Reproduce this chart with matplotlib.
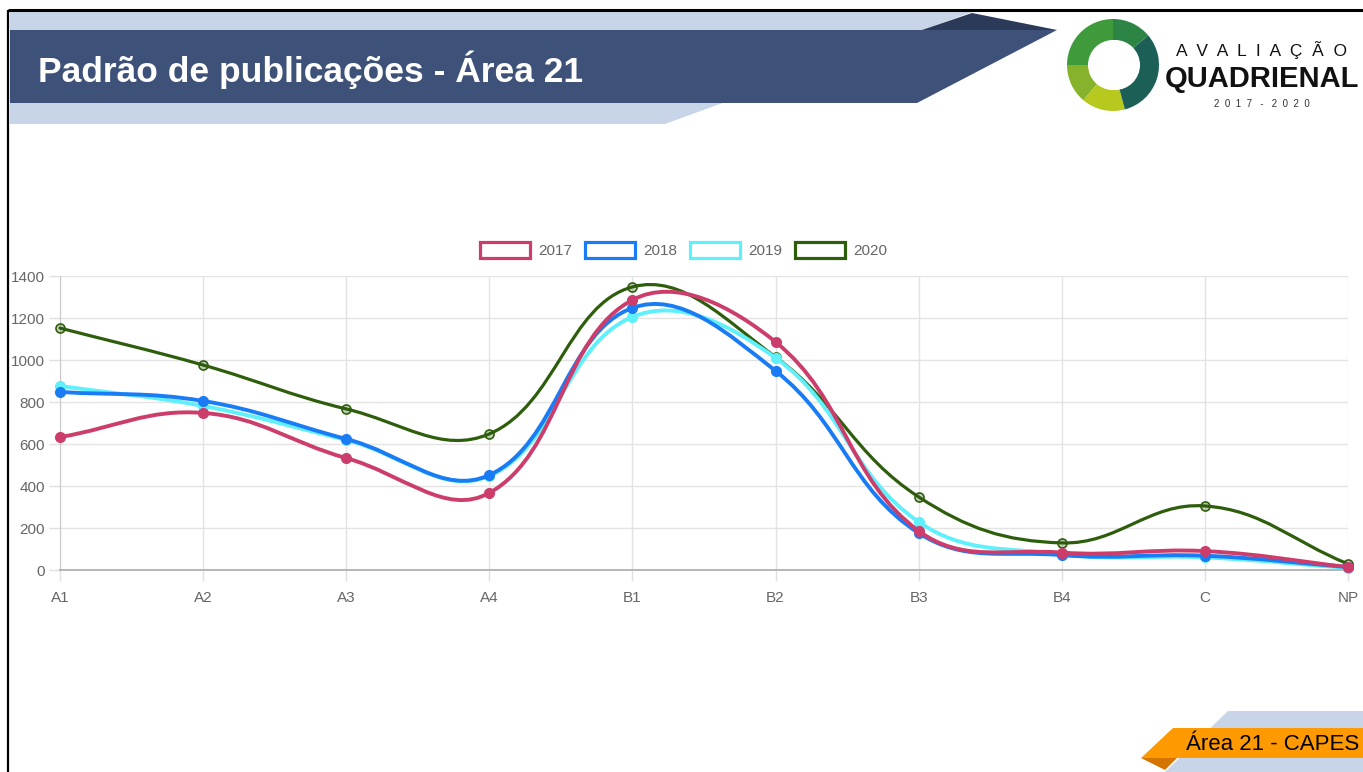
import numpy as np
import matplotlib
matplotlib.use("Agg")
import matplotlib.pyplot as plt
from matplotlib.path import Path
from matplotlib.patches import PathPatch, Polygon, Patch, Wedge, Circle

# ---------------- data ----------------
categories = ["A1", "A2", "A3", "A4", "B1", "B2", "B3", "B4", "C", "NP"]
years = ["2017", "2018", "2019", "2020"]
v2017 = [633, 748, 533, 367, 1286, 1086, 186, 83, 90, 14]
v2018 = [848, 805, 624, 452, 1248, 948, 176, 71, 68, 14]
v2019 = [876, 781, 619, 448, 1205, 1010, 229, 75, 60, 10]
v2020 = [1152, 976, 767, 648, 1348, 1014, 348, 129, 305, 29]
yticks = [0, 200, 400, 600, 800, 1000, 1200, 1400]

title = "Padrão de publicações - Área 21"
footer = "Área 21 - CAPES"

series = [v2017, v2018, v2019, v2020]
colors = ["#cc3d6b", "#1a7cf5", "#5ef0fb", "#2e5d0c"]

W, H = 1363, 772
fig = plt.figure(figsize=(W / 100, H / 100), dpi=100)
fig.patch.set_facecolor("white")
sans = ["Liberation Sans", "DejaVu Sans"]

# ---------------- decoration (pixel coordinates, y down) ----------------
deco = fig.add_axes([0, 0, 1, 1], zorder=0)
deco.set_xlim(0, W)
deco.set_ylim(H, 0)
deco.axis("off")

deco.add_patch(Polygon([(10, 12), (972, 12), (665, 124), (10, 124)], closed=True,
                       facecolor="#c8d4e8", edgecolor="none"))
deco.add_patch(Polygon([(10, 30), (1057, 30), (917, 103), (10, 103)], closed=True,
                       facecolor="#3e5178", edgecolor="none"))
deco.add_patch(Polygon([(922, 30), (972, 13), (1057, 30)], closed=True,
                       facecolor="#2b3a58", edgecolor="none"))
deco.text(38, 70, title, color="white", fontsize=25.5, fontweight="bold",
          family=sans, va="center", ha="left")

# frame
deco.plot([8, W], [10, 10], color="black", lw=2.2, solid_capstyle="butt")
deco.plot([8, 8], [10, H], color="black", lw=1.6, solid_capstyle="butt")

# logo swirl
cx, cy = 1113, 65
segs = [(90, 180, "#3f9a3c"), (180, 230, "#86b22c"), (230, 285, "#b7c81f"),
        (285, 400, "#1b5f57"), (40, 90, "#2d8545")]
for a0, a1, c in segs:
    deco.add_patch(Wedge((cx, cy), 46, -a1, -a0, width=21, facecolor=c, edgecolor="none"))
deco.add_patch(Circle((cx + 2, cy), 25, facecolor="white", edgecolor="none"))
deco.text(1262, 50, "A  V  A  L  I  A  Ç  Ã  O", fontsize=12.5, ha="center", va="center",
          family=sans, color="#111111")
deco.text(1262, 79, "QUADRIENAL", fontsize=21, ha="center", va="center", fontweight="bold",
          family=sans, color="#111111")
deco.text(1262, 104, "2  0  1  7   -   2  0  2  0", fontsize=7, ha="center", va="center",
          family=sans, color="#333333")

# footer banner
deco.add_patch(Polygon([(1228, 711), (W, 711), (W, H), (1165, H)], closed=True,
                       facecolor="#c8d4e8", edgecolor="none"))
deco.add_patch(Polygon([(1141, 758), (1177, 758), (1165, 770)], closed=True,
                       facecolor="#d47500", edgecolor="none"))
deco.add_patch(Polygon([(1173, 728), (W, 728), (W, 758), (1141, 758)], closed=True,
                       facecolor="#ff9900", edgecolor="none"))
deco.text(1273, 744, footer, fontsize=16, ha="center", va="center",
          family=sans, color="black")

# ---------------- chart ----------------
x0, x1, ytop, ybot = 60, 1348, 276, 570
ax = fig.add_axes([x0 / W, 1 - ybot / H, (x1 - x0) / W, (ybot - ytop) / H], zorder=2)
ax.set_facecolor("none")
n = len(categories)
xs = np.arange(n)
ax.set_xlim(0, n - 1)
ax.set_ylim(0, 1400)

# pixel scales for Chart.js style spline
sx = (x1 - x0) / (n - 1)
sy = (ybot - ytop) / 1400.0
tension = 0.4


def spline_path(vals):
    px = xs * sx
    py = np.array(vals, dtype=float) * sy
    m = len(px)
    cp_prev = [None] * m
    cp_next = [None] * m
    for i in range(m):
        p = np.array([px[i], py[i]])
        pr = np.array([px[i - 1], py[i - 1]]) if i > 0 else p
        nx = np.array([px[i + 1], py[i + 1]]) if i < m - 1 else p
        d01 = np.hypot(*(p - pr))
        d12 = np.hypot(*(nx - p))
        tot = d01 + d12
        s01 = d01 / tot if tot else 0
        s12 = d12 / tot if tot else 0
        cp_prev[i] = p - tension * s01 * (nx - pr)
        cp_next[i] = p + tension * s12 * (nx - pr)
    verts = [(px[0] / sx, py[0] / sy)]
    codes = [Path.MOVETO]
    for i in range(m - 1):
        a = cp_next[i]
        b = cp_prev[i + 1]
        verts += [(a[0] / sx, a[1] / sy), (b[0] / sx, b[1] / sy), (px[i + 1] / sx, py[i + 1] / sy)]
        codes += [Path.CURVE4] * 3
    return Path(verts, codes)


for k in range(len(series) - 1, -1, -1):
    vals = series[k]
    c = colors[k]
    z = 10 + (len(series) - k) * 2
    lw = 2.3 if k == 3 else 2.8
    ax.add_patch(PathPatch(spline_path(vals), facecolor="none", edgecolor=c, lw=lw,
                           zorder=z, clip_on=False, capstyle="round", joinstyle="round"))
    if k == 3:
        ax.plot(xs, vals, "o", ms=6.5, mfc=(0.18, 0.36, 0.05, 0.25), mec=c, mew=1.2,
                zorder=z + 1, clip_on=False)
    else:
        ax.plot(xs, vals, "o", ms=7, mfc=c, mec=c, zorder=z + 1, clip_on=False)

ax.set_xticks(xs)
ax.set_xticklabels(categories, family=sans, fontsize=11, color="#666666")
ax.set_yticks(yticks)
ax.set_yticklabels([str(t) for t in yticks], family=sans, fontsize=11, color="#666666")
ax.tick_params(axis="both", length=8, color="#e0e0e0", width=1)
ax.tick_params(axis="x", pad=7)
ax.tick_params(axis="y", pad=3)
ax.grid(True, color="#e3e3e3", lw=1)
ax.set_axisbelow(True)
for s in ["top", "right"]:
    ax.spines[s].set_visible(False)
ax.spines["left"].set_color("#c8c8c8")
ax.spines["bottom"].set_color("#b0b0b0")
ax.spines["bottom"].set_linewidth(1.3)

handles = [Patch(facecolor="white", edgecolor=colors[i], lw=2.3, label=years[i]) for i in range(4)]
leg = ax.legend(handles=handles, loc="center", bbox_to_anchor=(0.484, 1.088), ncol=4,
                frameon=False, handlelength=3.3, handleheight=1.3, columnspacing=0.85,
                handletextpad=0.5, borderpad=0, prop={"family": sans, "size": 11})
for t in leg.get_texts():
    t.set_color("#666666")

fig.savefig("out.png", dpi=100, facecolor="white")
